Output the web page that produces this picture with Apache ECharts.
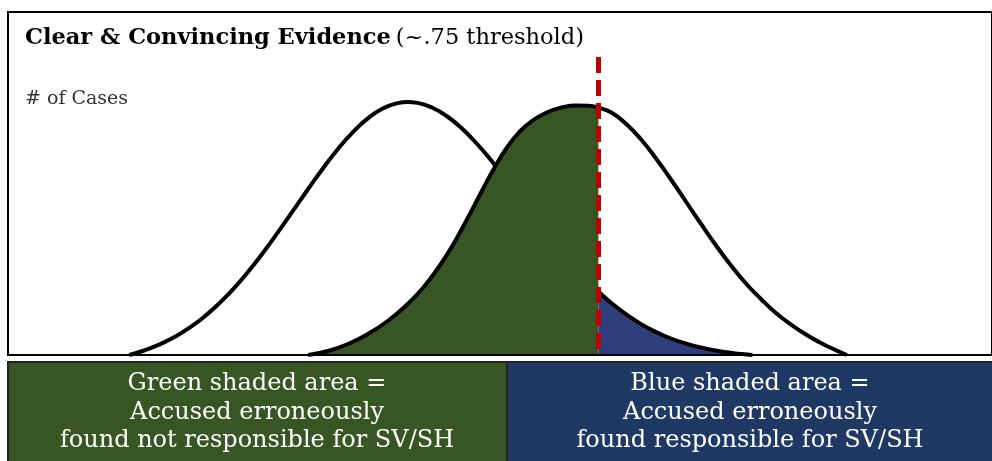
<!DOCTYPE html>
<html><head><meta charset="utf-8">
<script src="https://cdn.jsdelivr.net/npm/echarts@6/dist/echarts.min.js"></script>
<style>html,body{margin:0;padding:0;background:#fff}#c{width:992px;height:461px}</style>
</head><body><div id="c"></div><script>
// ---- text ----
const titleBold = 'Clear & Convincing Evidence';
const titleRest = '(~.75 threshold)';
const yLabel = '# of Cases';
const greenLabel = ['Green shaded area =', 'Accused erroneously', 'found not responsible for SV/SH'];
const blueLabel = ['Blue shaded area =', 'Accused erroneously', 'found responsible for SV/SH'];

// ---- data (evidence scale 0-99, # of cases 0-343) ----
const threshold = 59.4;
const thresholdTop = 298;
// accused erroneously (left curve)
const leftX = [12.2, 13.7, 15.2, 16.7, 18.2, 19.7, 21.2, 22.7, 24.2, 25.7, 27.2, 28.7, 30.2, 31.7, 33.2, 34.7, 36.2, 37.7, 39.2, 40.2, 41.2, 42.7, 44.2, 45.7, 47.2, 48.7, 50.2, 52.2, 54.2, 56.7, 59.4, 60.7, 62.2, 63.7, 65.2, 66.7, 68.2, 69.7, 71.2, 72.7, 73.8, 74.9];
const leftY = [0, 4.5, 10.3, 17.7, 26.8, 37.9, 51.1, 66.4, 83.8, 102.8, 123.3, 144.6, 166.0, 186.8, 206.0, 222.9, 236.6, 246.5, 251.9, 253, 252.1, 247.2, 238.5, 226.2, 211.0, 193.6, 174.6, 148.2, 122.0, 91.6, 63.5, 52.0, 40.6, 30.9, 23.0, 16.5, 11.5, 7.5, 4.5, 2.3, 1.0, 0];
// responsible (right curve)
const rightX = [30.2, 32.2, 34.2, 36.2, 38.2, 40.2, 41.7, 43.2, 44.7, 46.2, 47.7, 48.9, 50.2, 51.4, 52.7, 54.2, 55.7, 57.2, 58.4, 59.4, 60.7, 62.2, 63.7, 65.2, 66.7, 68.2, 69.7, 71.2, 72.7, 74.2, 75.7, 77.2, 78.7, 80.2, 81.7, 82.7, 83.7, 84.4];
const rightY = [0, 4, 11, 21, 34, 51, 66.5, 86, 109, 136, 164.5, 186.5, 207.5, 222.5, 234, 242.5, 247.5, 249.5, 249.3, 247.3, 242.5, 231, 215.5, 196.5, 175.5, 153.5, 131.5, 110, 90, 72, 56.5, 42.5, 31, 21, 12.5, 7.5, 3, 0];

const leftPts = leftX.map((x, i) => [x, leftY[i]]);
const rightPts = rightX.map((x, i) => [x, rightY[i]]);
const bluePts = leftPts.filter(p => p[0] >= threshold);
const greenPts = rightPts.filter(p => p[0] <= threshold);

const GREEN = '#375623', BLUE = '#2E3F7B', PANEL_GREEN = '#375623', PANEL_BLUE = '#1F3864';
const SERIF = '"DejaVu Serif", "Liberation Serif", serif';

const chart = echarts.init(document.getElementById('c'), null, {renderer: 'canvas'});
const panelText = (lines, cx) => lines.map((t, i) => ({
  type: 'text', z: 11, x: cx, y: 384 + i * 28.5,
  style: {text: t, fill: '#fff', font: 'normal 24px ' + SERIF, align: 'center', verticalAlign: 'middle'}
}));
chart.setOption({
  animation: false,
  backgroundColor: '#fff',
  title: [{
    text: '{b|' + titleBold + '} {n|' + titleRest + '}',
    left: 20, top: 22,
    textStyle: {
      rich: {
        b: {fontFamily: SERIF, fontWeight: 'bold', fontSize: 22.5, color: '#000'},
        n: {fontFamily: SERIF, fontWeight: 'normal', fontSize: 22.5, color: '#000'}
      }
    }
  }, {
    text: yLabel, left: 20, top: 85,
    textStyle: {fontFamily: SERIF, fontWeight: 'normal', fontSize: 19, color: '#333'}
  }],
  grid: {left: 8, top: 12, width: 990, height: 343, show: true, borderColor: '#000', borderWidth: 2, backgroundColor: 'transparent'},
  xAxis: {type: 'value', min: 0, max: 99, z: 10,
    axisLine: {show: true, onZero: false, lineStyle: {color: '#000', width: 2}},
    axisTick: {show: false}, axisLabel: {show: false}, splitLine: {show: false}},
  yAxis: {type: 'value', min: 0, max: 343, show: false, splitLine: {show: false}},
  series: [
    {type: 'line', name: 'blueFill', data: bluePts, smooth: true, symbol: 'none', z: 1,
      lineStyle: {width: 0}, areaStyle: {color: BLUE, opacity: 1}},
    {type: 'line', name: 'leftCurve', data: leftPts, smooth: true, symbol: 'none', z: 2,
      lineStyle: {color: '#000', width: 4}},
    {type: 'line', name: 'greenFill', data: greenPts, smooth: true, symbol: 'none', z: 3,
      lineStyle: {width: 0}, areaStyle: {color: GREEN, opacity: 1}},
    {type: 'line', name: 'rightCurve', data: rightPts, smooth: true, symbol: 'none', z: 4,
      lineStyle: {color: '#000', width: 4},
      markLine: {silent: true, symbol: ['none', 'none'], label: {show: false},
        lineStyle: {color: '#C00000', width: 5, type: [16, 7], opacity: 1},
        emphasis: {disabled: true},
        data: [[{coord: [threshold, thresholdTop]}, {coord: [threshold, 0]}]]}}
  ],
  graphic: [
    {type: 'rect', z: 10, shape: {x: 8, y: 362, width: 499, height: 110}, style: {fill: PANEL_GREEN, stroke: '#222', lineWidth: 2}},
    {type: 'rect', z: 10, shape: {x: 507, y: 362, width: 492, height: 110}, style: {fill: PANEL_BLUE, stroke: '#222', lineWidth: 2}}
  ].concat(panelText(greenLabel, 257), panelText(blueLabel, 750))
});
</script></body></html>
